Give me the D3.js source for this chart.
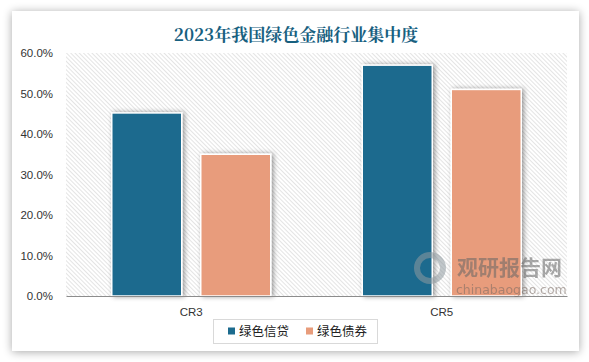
<!DOCTYPE html>
<html>
<head>
<meta charset="utf-8">
<script src="https://cdn.jsdelivr.net/npm/d3@7"></script>
<style>
  html, body { margin: 0; padding: 0; background: #fff; }
  svg { display: block; }
</style>
</head>
<body>
<svg id="chart" width="589" height="362"></svg>
<script>
// chart data
var categories = ["CR3", "CR5"];
var seriesNames = ["绿色信贷", "绿色债券"];
var seriesColors = ["#1c6b8e", "#e89c7b"];
var creditValues = [0.452, 0.57];
var bondValues = [0.35, 0.51];
var yTicks = [0, 0.1, 0.2, 0.3, 0.4, 0.5, 0.6];

var W = 589, H = 362;
var margin = {left: 66, right: 22, top: 53, bottom: 66};

var svg = d3.select("#chart");
var defs = svg.append("defs");

// card shadow
var cardShadow = defs.append("filter").attr("id", "cardShadow")
    .attr("x", "-10%").attr("y", "-10%").attr("width", "120%").attr("height", "120%");
cardShadow.append("feGaussianBlur").attr("in", "SourceAlpha").attr("stdDeviation", 5);
cardShadow.append("feOffset").attr("dx", 0).attr("dy", 1).attr("result", "blur");
cardShadow.append("feComponentTransfer").append("feFuncA").attr("type", "linear").attr("slope", 0.35);
var m1 = cardShadow.append("feMerge");
m1.append("feMergeNode");
m1.append("feMergeNode").attr("in", "SourceGraphic");

// bar shadow
var barShadow = defs.append("filter").attr("id", "barShadow")
    .attr("x", "-20%").attr("y", "-20%").attr("width", "140%").attr("height", "140%");
barShadow.append("feGaussianBlur").attr("in", "SourceAlpha").attr("stdDeviation", 2.5);
barShadow.append("feOffset").attr("dx", 2).attr("dy", 0);
barShadow.append("feComponentTransfer").append("feFuncA").attr("type", "linear").attr("slope", 0.4);
var m2 = barShadow.append("feMerge");
m2.append("feMergeNode");
m2.append("feMergeNode").attr("in", "SourceGraphic");

// hatch pattern for plot background
var pat = defs.append("pattern").attr("id", "hatch")
    .attr("patternUnits", "userSpaceOnUse")
    .attr("width", 3).attr("height", 3)
    .attr("patternTransform", "rotate(-45)");
pat.append("rect").attr("width", 3).attr("height", 3).attr("fill", "#fff");
pat.append("line").attr("x1", 0).attr("y1", 0).attr("x2", 0).attr("y2", 3)
    .attr("stroke", "#d2d2d2").attr("stroke-width", 1.2);

// card
svg.append("rect")
    .attr("x", 12).attr("y", 11).attr("width", 567).attr("height", 340)
    .attr("fill", "#fff")
    .attr("filter", "url(#cardShadow)");

// title
svg.append("text")
    .attr("x", 296).attr("y", 41)
    .attr("text-anchor", "middle")
    .attr("font-family", "'Noto Serif CJK SC', 'DejaVu Serif', serif")
    .attr("font-weight", "bold")
    .attr("font-size", 17)
    .attr("fill", "#17607f")
    .text("2023年我国绿色金融行业集中度");

var x0 = d3.scaleBand().domain(categories)
    .range([margin.left, W - margin.right]);
var y = d3.scaleLinear().domain([0, 0.6])
    .range([H - margin.bottom, margin.top]);

// plot background
svg.append("rect")
    .attr("x", x0.range()[0]).attr("y", y(0.6))
    .attr("width", x0.range()[1] - x0.range()[0])
    .attr("height", y(0) - y(0.6))
    .attr("fill", "url(#hatch)");

// y axis labels
var yAxis = d3.axisLeft(y).tickValues(yTicks)
    .tickFormat(function (d) { return (d * 100).toFixed(1) + "%"; })
    .tickSize(0).tickPadding(13);
var gy = svg.append("g")
    .attr("transform", "translate(" + margin.left + ",0)")
    .call(yAxis);
gy.select(".domain").remove();
gy.selectAll("text")
    .attr("font-family", "'Liberation Sans', Arial, sans-serif")
    .attr("font-size", 11.5)
    .attr("fill", "#333");

// bars
var rows = categories.map(function (c, i) {
    return {cat: c, values: [creditValues[i], bondValues[i]]};
});
var barW = 70, gap = 19;
var groups = svg.selectAll("g.cat").data(rows).enter().append("g").attr("class", "cat");
groups.selectAll("rect")
    .data(function (d) {
        return d.values.map(function (v, k) { return {cat: d.cat, v: v, k: k}; });
    })
    .enter().append("rect")
    .attr("x", function (d) {
        var c = x0(d.cat) + x0.bandwidth() / 2;
        return c - (barW * 2 + gap) / 2 + d.k * (barW + gap);
    })
    .attr("y", function (d) { return y(d.v); })
    .attr("width", barW)
    .attr("height", function (d) { return y(0) - y(d.v); })
    .attr("fill", function (d) { return seriesColors[d.k]; })
    .attr("stroke", "#fff")
    .attr("stroke-width", 1.5)
    .attr("filter", "url(#barShadow)");

// x axis
var xAxis = d3.axisBottom(x0).tickSize(0).tickPadding(12);
var gx = svg.append("g")
    .attr("transform", "translate(0," + y(0) + ")")
    .call(xAxis);
gx.select(".domain").attr("stroke", "#8c8c8c").attr("stroke-width", 1.2);
gx.selectAll("text")
    .attr("font-family", "'Liberation Sans', Arial, sans-serif")
    .attr("font-size", 11.5)
    .attr("fill", "#333");

// watermark
var wm = svg.append("g").attr("opacity", 0.55);
wm.append("circle").attr("cx", 430).attr("cy", 268).attr("r", 13)
    .attr("fill", "none").attr("stroke", "#8f9aa0").attr("stroke-width", 6);
wm.append("text").attr("x", 457).attr("y", 275)
    .attr("font-family", "'Noto Sans CJK SC', sans-serif")
    .attr("font-weight", "bold").attr("font-size", 21).attr("fill", "#666")
    .text("观研报告网");
wm.append("text").attr("x", 456).attr("y", 294)
    .attr("font-family", "'DejaVu Sans', sans-serif")
    .attr("font-size", 12.5).attr("fill", "#7a6a62")
    .text("chinabaogao.com");

// legend
var lg = svg.append("g");
lg.append("rect").attr("x", 213.5).attr("y", 319.5).attr("width", 164).attr("height", 24)
    .attr("fill", "#fff").attr("stroke", "#d9d9d9");
var itemX = [228, 306];
var items = lg.selectAll("g.item").data(seriesNames).enter().append("g").attr("class", "item")
    .attr("transform", function (d, i) { return "translate(" + itemX[i] + ",331)"; });
items.append("rect").attr("x", 0).attr("y", -3.5).attr("width", 7).attr("height", 7)
    .attr("fill", function (d, i) { return seriesColors[i]; });
items.append("text").attr("x", 11).attr("y", 4.5)
    .attr("font-family", "'Noto Sans CJK SC', sans-serif")
    .attr("font-size", 12.5).attr("fill", "#222")
    .text(function (d) { return d; });
</script>
</body>
</html>
